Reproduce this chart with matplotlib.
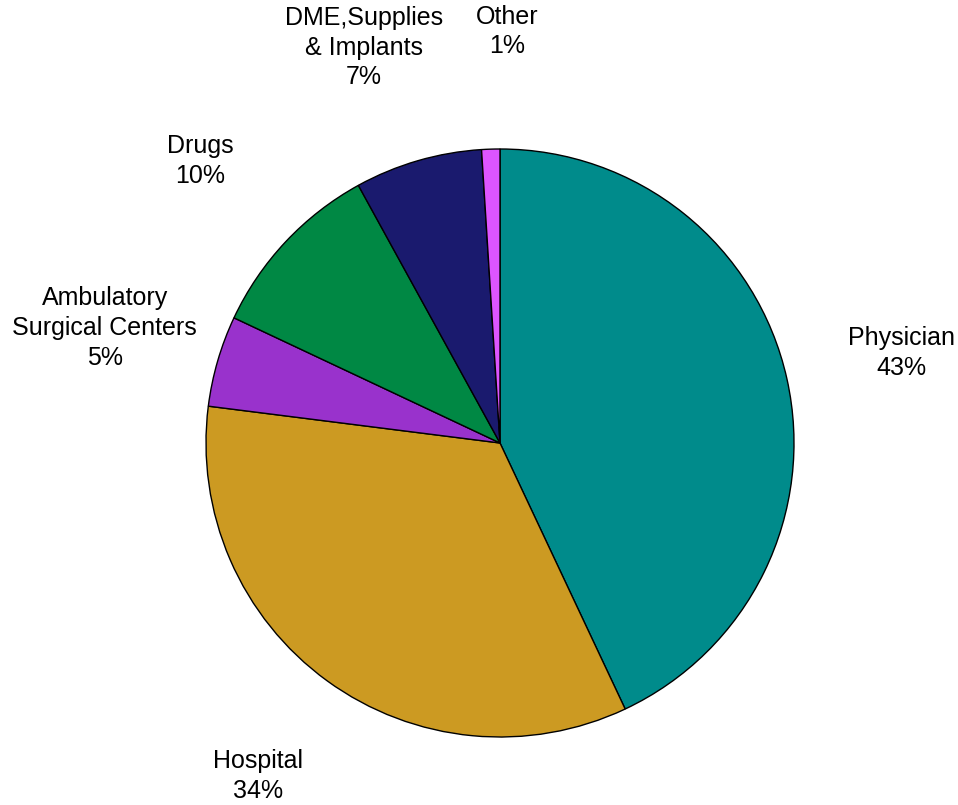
import matplotlib
matplotlib.use('Agg')
import matplotlib.pyplot as plt

labels = ['Physician', 'Hospital', 'Ambulatory\nSurgical Centers', 'Drugs',
          'DME,Supplies\n& Implants', 'Other']
shares = [43, 34, 5, 10, 7, 1]
colors = ['#008B8B', '#CC9A22', '#9932CC', '#008844', '#1A1A6E', '#DD55FF']

plt.rcParams['font.family'] = ['Liberation Sans', 'DejaVu Sans']

fig = plt.figure(figsize=(9.58, 8.05), dpi=100)
ax = fig.add_axes([0, 0, 1, 1])

texts = ['%s\n%d%%' % (l, s) for l, s in zip(labels, shares)]
wedges, lbls = ax.pie(shares, labels=texts, colors=colors, startangle=90,
                      counterclock=False, labeldistance=1.40,
                      wedgeprops=dict(edgecolor='black', linewidth=1),
                      textprops=dict(fontsize=18, linespacing=1.3))

r = 294  # radius in px
# small sideways nudges (px) so the two top labels don't collide
nudge = [0, 0, 0, 0, -21, 20]
for t, dx in zip(lbls, nudge):
    t.set_horizontalalignment('center')
    t.set_verticalalignment('center')
    x, y = t.get_position()
    t.set_position((x + dx / r, y))

# center at (500, 443) px
ax.set_xlim(-500 / r, (958 - 500) / r)
ax.set_ylim(-(805 - 443) / r, 443 / r)
ax.set_aspect('equal')
ax.axis('off')

fig.savefig('out.png', dpi=100)
